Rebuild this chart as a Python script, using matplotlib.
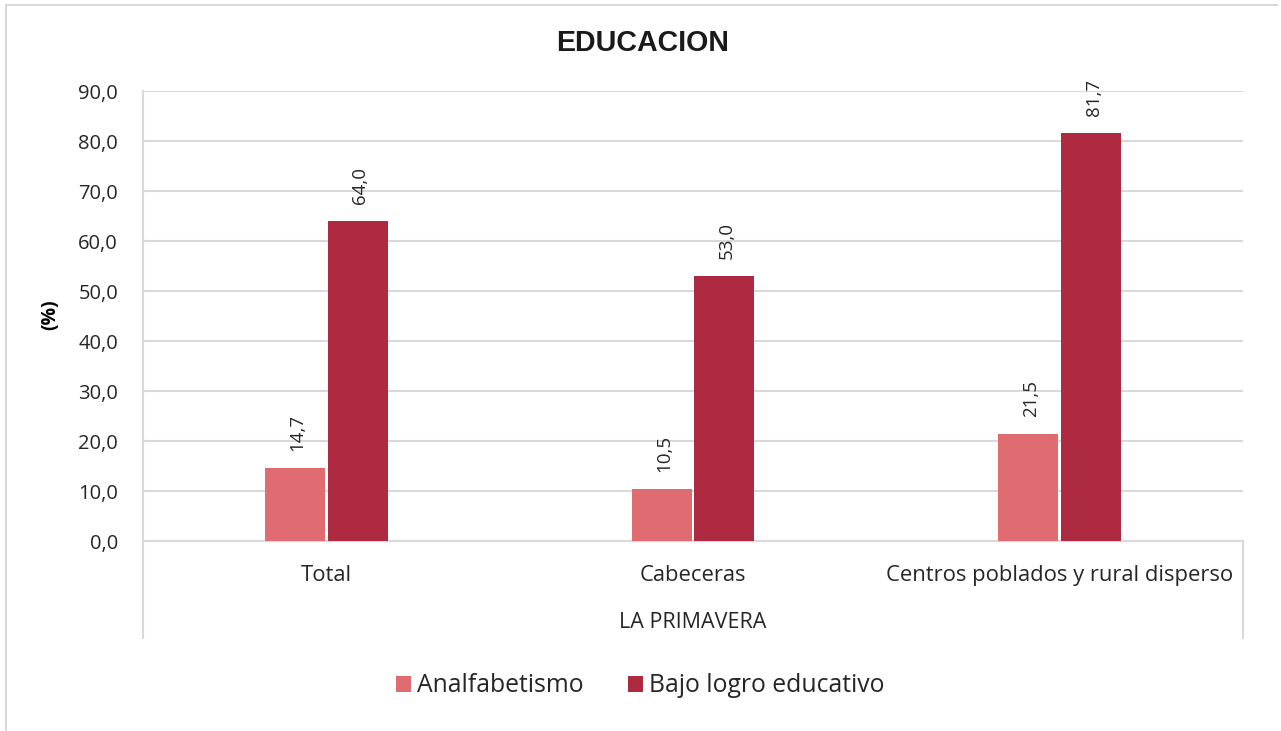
import matplotlib
matplotlib.use("Agg")
import matplotlib.pyplot as plt
from matplotlib.lines import Line2D
import numpy as np

plt.rcParams['font.family'] = ['Open Sans', 'DejaVu Sans']

categories = ["Total", "Cabeceras", "Centros poblados y rural disperso"]
series_names = ["Analfabetismo", "Bajo logro educativo"]
analfabetismo = [14.7, 10.5, 21.5]
bajo_logro = [64.0, 53.0, 81.7]
yticks = [0, 10, 20, 30, 40, 50, 60, 70, 80, 90]
colors = ["#E06B70", "#AD2A40"]

W, H = 1281, 731
fig = plt.figure(figsize=(W / 100, H / 100), dpi=100)
ax = fig.add_axes([143 / W, 1 - 541 / H, 1100 / W, 450 / H])

x = np.arange(len(categories))
bw = 0.164
off = 0.0855
b1 = ax.bar(x - off, analfabetismo, bw, color=colors[0], label=series_names[0], zorder=3)
b2 = ax.bar(x + off, bajo_logro, bw, color=colors[1], label=series_names[1], zorder=3)

for bars, vals in ((b1, analfabetismo), (b2, bajo_logro)):
    for r, v in zip(bars, vals):
        ax.annotate(f"{v:.1f}".replace(".", ","),
                    (r.get_x() + r.get_width() / 2, v),
                    xytext=(2, 12), textcoords="offset points",
                    rotation=90, ha="center", va="bottom",
                    fontsize=13.5, color="#262626")

ax.set_xlim(-0.5, 2.5)
ax.set_ylim(0, 90)
ax.set_yticks(yticks)
ax.set_yticklabels([f"{t:.1f}".replace(".", ",") for t in yticks],
                   fontsize=14.5, color="#262626")
ax.set_xticks(x)
ax.set_xticklabels(categories, fontsize=15.8, color="#262626")
ax.tick_params(axis="x", length=0, pad=17)
ax.tick_params(axis="y", length=0, pad=18)
ax.grid(axis="y", color="#D9D9D9", linewidth=1.5, zorder=0)
for s in ("top", "right"):
    ax.spines[s].set_visible(False)
ax.spines["left"].set_color("#D9D9D9")
ax.spines["left"].set_linewidth(1.5)
ax.spines["bottom"].set_color("#D9D9D9")
ax.spines["bottom"].set_linewidth(1.5)

ybot = -(638 - 541) / 450
for xx in (0, 1):
    ax.add_line(Line2D([xx, xx], [0, ybot], transform=ax.transAxes,
                       color="#D9D9D9", linewidth=1.5, clip_on=False))
ax.text(0.5, -(622 - 541) / 450, "LA PRIMAVERA", transform=ax.transAxes,
        ha="center", va="center", fontsize=15.5, color="#262626")

fig.text(643 / W, 1 - 43 / H, "EDUCACION", ha="center", va="center",
         fontsize=20.6, fontweight="bold", color="#1A1A1A",
         family=["Liberation Sans", "DejaVu Sans"])
fig.text(50 / W, 1 - 315 / H, "(%)", ha="center", va="center", rotation=90,
         fontsize=14, fontweight="bold", color="#000000")

fig.legend(handles=[b1, b2], labels=series_names, loc="center",
           bbox_to_anchor=(640 / W, 1 - 686 / H), ncol=2, frameon=False,
           fontsize=17.8, handlelength=0.6, handleheight=0.6, handletextpad=0.25,
           columnspacing=1.8, labelcolor="#262626")

fig.add_artist(Line2D([6 / W, 6 / W], [0, 1 - 5 / H], transform=fig.transFigure,
                      color="#D9D9D9", linewidth=1.5))
fig.add_artist(Line2D([6 / W, 1277 / W], [1 - 5 / H, 1 - 5 / H], transform=fig.transFigure,
                      color="#D9D9D9", linewidth=1.5))

fig.savefig("out.png", dpi=100, facecolor="white")
